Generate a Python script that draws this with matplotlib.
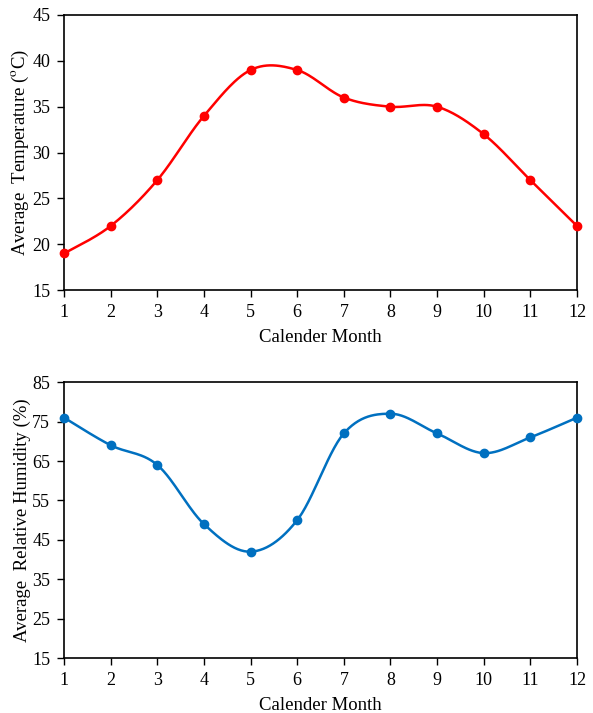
import numpy as np
import matplotlib
matplotlib.use("Agg")
import matplotlib.pyplot as plt

plt.rcParams['font.family'] = ['Liberation Serif', 'DejaVu Serif']
plt.rcParams['mathtext.fontset'] = 'stix'

months = [1, 2, 3, 4, 5, 6, 7, 8, 9, 10, 11, 12]
temperature = [19, 22, 27, 34, 39, 39, 36, 35, 35, 32, 27, 22]
humidity = [76, 69, 64, 49, 42, 50, 72, 77, 72, 67, 71, 76]


def smooth(x, y, n=30):
    x = np.asarray(x, float)
    y = np.asarray(y, float)
    px = np.concatenate([[x[0]], x, [x[-1]]])
    py = np.concatenate([[y[0]], y, [y[-1]]])
    xs, ys = [], []
    t = np.linspace(0, 1, n)
    for i in range(1, len(px) - 2):
        p0 = np.array([px[i], py[i]])
        p3 = np.array([px[i + 1], py[i + 1]])
        c1 = p0 + (np.array([px[i + 1], py[i + 1]]) - np.array([px[i - 1], py[i - 1]])) / 6
        c2 = p3 - (np.array([px[i + 2], py[i + 2]]) - np.array([px[i], py[i]])) / 6
        b = ((1 - t) ** 3)[:, None] * p0 + (3 * (1 - t) ** 2 * t)[:, None] * c1 + \
            (3 * (1 - t) * t ** 2)[:, None] * c2 + (t ** 3)[:, None] * p3
        xs.extend(b[:, 0])
        ys.extend(b[:, 1])
    return np.array(xs), np.array(ys)


fig = plt.figure(figsize=(5.93, 7.13), dpi=100)
ax1 = fig.add_axes([0.108, 0.593, 0.865, 0.386])
ax2 = fig.add_axes([0.108, 0.077, 0.865, 0.387])

for ax, data, color, ylim, yticks, ylabel in [
    (ax1, temperature, '#FF0000', (15, 45), np.arange(15, 46, 5), r'Average  Temperature ($^{\mathrm{o}}$C)'),
    (ax2, humidity, '#0070C0', (15, 85), np.arange(15, 86, 10), 'Average  Relative Humidity (%)'),
]:
    sx, sy = smooth(months, data)
    ax.plot(sx, sy, color=color, lw=1.8, clip_on=False)
    ax.plot(months, data, 'o', color=color, ms=6, clip_on=False, zorder=5)
    ax.set_xlim(1, 12)
    ax.set_ylim(*ylim)
    ax.set_xticks(months)
    ax.set_yticks(yticks)
    ax.tick_params(direction='out', length=5, width=1, labelsize=13, colors='black', pad=5)
    for s in ax.spines.values():
        s.set_linewidth(1.2)
    ax.set_xlabel('Calender Month', fontsize=13.5, labelpad=6)
    ax.set_ylabel(ylabel, fontsize=13.5, labelpad=1)

fig.savefig('out.png', dpi=100)
